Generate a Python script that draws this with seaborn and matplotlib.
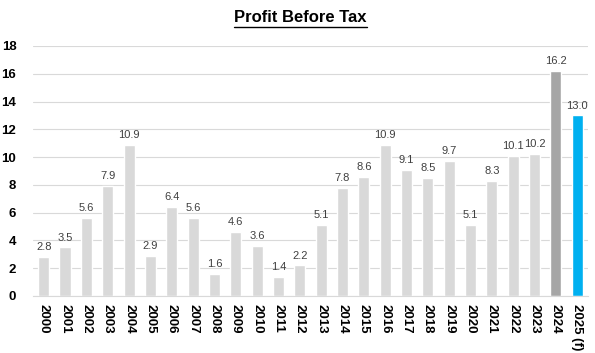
import matplotlib
matplotlib.use('Agg')
import matplotlib.pyplot as plt
import seaborn as sns
import pandas as pd

years = ['2000', '2001', '2002', '2003', '2004', '2005', '2006', '2007', '2008',
         '2009', '2010', '2011', '2012', '2013', '2014', '2015', '2016', '2017',
         '2018', '2019', '2020', '2021', '2022', '2023', '2024', '2025 (f)']
profit = [2.8, 3.5, 5.6, 7.9, 10.9, 2.9, 6.4, 5.6, 1.6, 4.6, 3.6, 1.4, 2.2,
          5.1, 7.8, 8.6, 10.9, 9.1, 8.5, 9.7, 5.1, 8.3, 10.1, 10.2, 16.2, 13.0]
bar_colors = ['#D9D9D9'] * 24 + ['#A6A6A6', '#00B0F0']

sns.set_style("white")
plt.rcParams['font.family'] = ['Liberation Sans', 'DejaVu Sans']

df = pd.DataFrame({'year': years, 'profit': profit})

fig = plt.figure(figsize=(5.95, 3.53), dpi=100)
ax = fig.add_axes([0.0555, 0.1615, 0.9325, 0.7082])

sns.barplot(data=df, x='year', y='profit', hue='year', palette=bar_colors,
            legend=False, width=0.52, saturation=1, ax=ax, zorder=2)

for i, v in enumerate(profit):
    ax.text(i, v + 0.35, f'{v:.1f}', ha='center', va='bottom', fontsize=8,
            color='#404040')

ax.set_ylim(0, 18)
ax.set_xlim(-0.5, len(years) - 0.5)
ax.set_yticks(range(0, 19, 2))
ax.yaxis.grid(True, color='#D9D9D9', linewidth=0.8, zorder=0)
ax.set_axisbelow(True)
for s in ['top', 'right', 'left']:
    ax.spines[s].set_visible(False)
ax.spines['bottom'].set_color('#D9D9D9')
ax.tick_params(axis='both', length=0, labelsize=9.5, labelcolor='black')
ax.tick_params(axis='y', pad=12)
ax.tick_params(axis='x', pad=6)
plt.setp(ax.get_xticklabels(), rotation=270, fontweight='bold', va='top')
plt.setp(ax.get_yticklabels(), fontweight='bold')
ax.set_xlabel('')
ax.set_ylabel('')

title = fig.text(0.505, 0.95, 'Profit Before Tax', ha='center', va='center',
                 fontsize=12, fontweight='bold', color='black')
fig.canvas.draw()
bb = title.get_window_extent().transformed(fig.transFigure.inverted())
fig.add_artist(plt.Line2D([bb.x0, bb.x1], [bb.y0 - 0.004, bb.y0 - 0.004],
                          color='black', linewidth=1, transform=fig.transFigure))

fig.savefig('out.png', dpi=100)
